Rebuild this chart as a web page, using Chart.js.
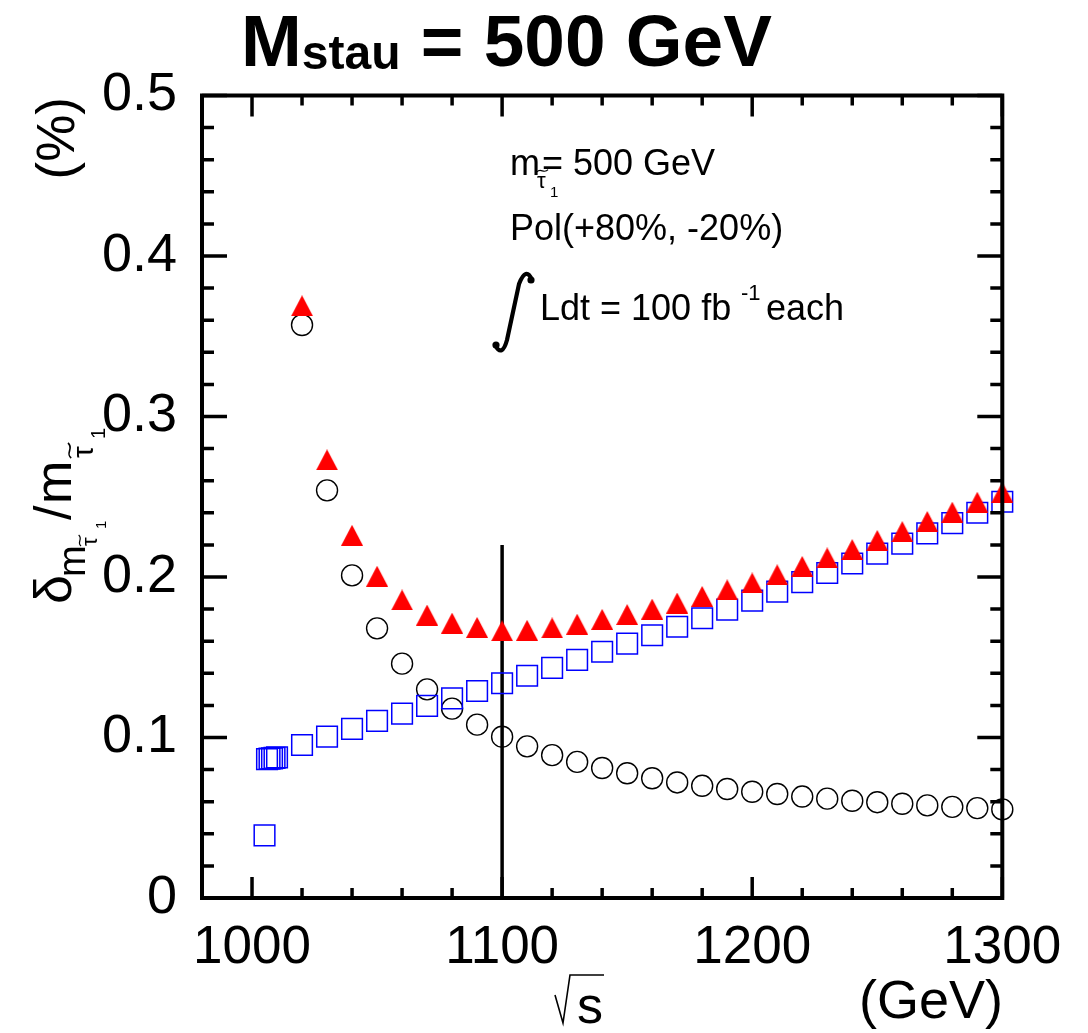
<!DOCTYPE html>
<html>
<head>
<meta charset="utf-8">
<title>Mstau = 500 GeV</title>
<script src="https://cdn.jsdelivr.net/npm/chart.js@4.4.1/dist/chart.umd.min.js"></script>
<style>
  html, body { margin: 0; padding: 0; background: #fff; }
  #wrap { width: 1088px; height: 1033px; }
</style>
</head>
<body>
<div id="wrap"><canvas id="staumass" width="1088" height="1033"></canvas></div>
<script>
// sqrt(s) scan points in GeV
const sqrtS = [1020, 1030, 1040, 1050, 1060, 1070, 1080, 1090, 1100, 1110,
               1120, 1130, 1140, 1150, 1160, 1170, 1180, 1190, 1200, 1210,
               1220, 1230, 1240, 1250, 1260, 1270, 1280, 1290, 1300];
const sqrtSFine = [1005, 1006, 1007, 1008, 1009, 1010,
                   1020, 1030, 1040, 1050, 1060, 1070, 1080, 1090, 1100, 1110,
                   1120, 1130, 1140, 1150, 1160, 1170, 1180, 1190, 1200, 1210,
                   1220, 1230, 1240, 1250, 1260, 1270, 1280, 1290, 1300];

// relative mass error in %
const errCircle = [0.357, 0.254, 0.201, 0.168, 0.146, 0.130, 0.118, 0.108, 0.1005, 0.0945,
                   0.089, 0.0848, 0.081, 0.0777, 0.0746, 0.072, 0.0699, 0.0679, 0.0662, 0.0648,
                   0.0632, 0.0619, 0.0606, 0.0597, 0.0587, 0.0577, 0.0568, 0.056, 0.0552];
const errTriangle = [0.369, 0.273, 0.226, 0.2005, 0.1857, 0.1763, 0.1713, 0.1686, 0.1665, 0.1668,
                     0.1683, 0.1706, 0.1736, 0.1766, 0.180, 0.1838, 0.1879, 0.192, 0.1963, 0.2014,
                     0.2066, 0.2119, 0.2171, 0.2228, 0.2283, 0.2346, 0.2404, 0.2466, 0.2528];
const errSquare = [0.039, 0.0865, 0.0868, 0.087, 0.0873, 0.0876,
                   0.0953, 0.1005, 0.1054, 0.1104, 0.1149, 0.1197, 0.1244, 0.129, 0.1338, 0.1385,
                   0.1434, 0.1484, 0.1534, 0.1585, 0.1637, 0.169, 0.1743, 0.1797, 0.1853, 0.1909,
                   0.1968, 0.2025, 0.2084, 0.2146, 0.2208, 0.2272, 0.2336, 0.24, 0.2469];

const xTicks = [1000, 1100, 1200, 1300];
const yTicks = [0, 0.1, 0.2, 0.3, 0.4, 0.5];
const cutX = [1100, 1100];
const cutY = [0, 0.22];

const FONT = '"Liberation Sans", Arial, Helvetica, sans-serif';

const pts = (xs, ys) => xs.map((x, i) => ({ x: x, y: ys[i] }));

// filled up-triangle, centred on its bounding box
const tri = document.createElement('canvas');
tri.width = 22; tri.height = 21;
(function () {
  const c = tri.getContext('2d');
  c.fillStyle = '#ff0000';
  c.beginPath();
  c.moveTo(0, 21); c.lineTo(22, 21); c.lineTo(11, 0);
  c.closePath();
  c.fill();
})();

// tau with a wavy tilde on top
function tauTilde(ctx, x, y, size) {
  ctx.font = size + 'px ' + FONT;
  ctx.fillText('τ', x, y);
  const w = Math.max(ctx.measureText('τ').width, size * 0.5);
  const cy = y - size * 0.78;
  const a = size * 0.09;
  ctx.save();
  ctx.lineWidth = Math.max(1.1, size * 0.055);
  ctx.beginPath();
  ctx.moveTo(x, cy + a * 0.6);
  ctx.bezierCurveTo(x + w * 0.3, cy - a * 1.8, x + w * 0.65, cy + a * 1.8, x + w, cy - a * 0.6);
  ctx.stroke();
  ctx.restore();
  return w;
}

// integral sign drawn as a stroked curve with ball ends
function integral(ctx) {
  ctx.save();
  ctx.lineWidth = 4.2;
  ctx.lineCap = 'round';
  ctx.beginPath();
  ctx.moveTo(532, 280);
  ctx.quadraticCurveTo(526, 266, 519, 284);
  ctx.lineTo(507, 340);
  ctx.quadraticCurveTo(502, 358, 495, 345);
  ctx.stroke();
  ctx.beginPath();
  ctx.arc(531, 280, 3.6, 0, Math.PI * 2);
  ctx.arc(496, 345, 3.6, 0, Math.PI * 2);
  ctx.fill();
  ctx.restore();
}

const decor = {
  id: 'decor',
  afterDatasetsDraw(chart) {
    const { ctx, chartArea: a, scales: { x, y } } = chart;
    ctx.save();
    ctx.strokeStyle = '#000';
    ctx.lineCap = 'butt';

    // inward ticks on all four sides
    ctx.lineWidth = 3.5;
    ctx.beginPath();
    for (let v = 980; v <= 1300; v += 20) {
      const px = x.getPixelForValue(v);
      const len = v % 100 === 0 ? 21 : 10;
      ctx.moveTo(px, a.bottom); ctx.lineTo(px, a.bottom - len);
      ctx.moveTo(px, a.top); ctx.lineTo(px, a.top + len);
    }
    for (let i = 0; i <= 25; i++) {
      const py = y.getPixelForValue(i * 0.02);
      const len = i % 5 === 0 ? 25 : 12;
      ctx.moveTo(a.left, py); ctx.lineTo(a.left + len, py);
      ctx.moveTo(a.right, py); ctx.lineTo(a.right - len, py);
    }
    ctx.stroke();
    ctx.lineWidth = 4;
    ctx.strokeRect(a.left, a.top, a.right - a.left, a.bottom - a.top);
    ctx.restore();
  },
  afterDraw(chart) {
    const ctx = chart.ctx;
    ctx.save();
    ctx.fillStyle = '#000';
    ctx.strokeStyle = '#000';
    ctx.textBaseline = 'alphabetic';
    ctx.textAlign = 'left';

    // title
    let tx = 241;
    ctx.font = 'bold 73px ' + FONT;
    ctx.fillText('M', tx, 66);
    tx += ctx.measureText('M').width;
    ctx.font = 'bold 48px ' + FONT;
    ctx.fillText('stau', tx, 69);
    tx += ctx.measureText('stau').width;
    ctx.font = 'bold 73px ' + FONT;
    ctx.fillText(' = 500 GeV', tx, 66);

    // run info
    ctx.font = '36px ' + FONT;
    ctx.fillText('m', 510, 175);
    tauTilde(ctx, 537, 188, 22);
    ctx.font = '15px ' + FONT;
    ctx.fillText('1', 550, 197);
    ctx.font = '36px ' + FONT;
    ctx.fillText('= 500 GeV', 542, 175);
    ctx.fillText('Pol(+80%, -20%)', 510, 240);
    integral(ctx);
    ctx.font = '36px ' + FONT;
    ctx.fillText('Ldt = 100 fb', 540, 320);
    ctx.font = '22px ' + FONT;
    ctx.fillText('-1', 741, 300);
    ctx.font = '36px ' + FONT;
    ctx.fillText('each', 766, 320);

    // x axis title
    ctx.lineWidth = 1.6;
    ctx.beginPath();
    ctx.moveTo(555, 995); ctx.lineTo(563, 1023); ctx.lineTo(570, 975); ctx.lineTo(604, 975);
    ctx.stroke();
    ctx.font = '52px ' + FONT;
    ctx.fillText('s', 577, 1023);
    ctx.font = '54px ' + FONT;
    ctx.textAlign = 'right';
    ctx.fillText('(GeV)', 1003, 1018);
    ctx.textAlign = 'left';

    // y axis title, rotated to read upwards
    ctx.save();
    ctx.translate(71, 604);
    ctx.rotate(-Math.PI / 2);
    ctx.font = '52px ' + FONT;
    ctx.fillText('δ', 0, 0);
    ctx.font = '38px ' + FONT;
    ctx.fillText('m', 27, 14);
    tauTilde(ctx, 58, 26, 22);
    ctx.font = '15px ' + FONT;
    ctx.fillText('1', 75, 35);
    ctx.font = '52px ' + FONT;
    ctx.fillText('/', 84, 0);
    ctx.fillText('m', 100, 0);
    tauTilde(ctx, 146, 22, 30);
    ctx.font = '20px ' + FONT;
    ctx.fillText('1', 165, 34);
    ctx.font = '53px ' + FONT;
    ctx.textAlign = 'right';
    ctx.fillText('(%)', 507, 3);
    ctx.restore();

    ctx.restore();
  }
};

new Chart(document.getElementById('staumass'), {
  type: 'scatter',
  data: {
    datasets: [
      {
        label: 'triangles',
        data: pts(sqrtS, errTriangle),
        pointStyle: tri,
        pointRadius: 11,
        clip: false,
        order: 0
      },
      {
        label: 'squares',
        data: pts(sqrtSFine, errSquare),
        pointStyle: 'rect',
        pointRadius: 14.6,
        borderColor: '#0000ff',
        backgroundColor: 'rgba(0,0,0,0)',
        borderWidth: 1.5,
        clip: false,
        order: 1
      },
      {
        label: 'circles',
        data: pts(sqrtS, errCircle),
        pointStyle: 'circle',
        pointRadius: 10.5,
        borderColor: '#000000',
        backgroundColor: 'rgba(0,0,0,0)',
        borderWidth: 1.4,
        clip: false,
        order: 2
      },
      {
        label: 'cut',
        data: pts(cutX, cutY),
        showLine: true,
        pointRadius: 0,
        borderColor: '#000000',
        borderWidth: 3.5,
        order: 3
      }
    ]
  },
  options: {
    responsive: false,
    animation: false,
    events: [],
    layout: { padding: { top: 95.5, right: 85.7, bottom: 0, left: 0 } },
    scales: {
      x: {
        type: 'linear',
        min: 980,
        max: 1300,
        grid: { display: false },
        border: { display: false },
        afterBuildTicks: s => { s.ticks = xTicks.map(v => ({ value: v })); },
        afterFit: s => { s.height = 135; },
        ticks: {
          color: '#000',
          padding: 11,
          autoSkip: false,
          maxRotation: 0,
          font: { family: FONT, size: 53 },
          callback: v => String(v)
        }
      },
      y: {
        type: 'linear',
        min: 0,
        max: 0.5,
        grid: { display: false },
        border: { display: false },
        afterBuildTicks: s => { s.ticks = yTicks.map(v => ({ value: v })); },
        afterFit: s => { s.width = 202; },
        ticks: {
          color: '#000',
          padding: 17,
          font: { family: FONT, size: 54 },
          callback: v => v === 0 ? '0' : v.toFixed(1)
        }
      }
    },
    plugins: {
      legend: { display: false },
      tooltip: { enabled: false },
      title: { display: false }
    }
  },
  plugins: [decor]
});
</script>
</body>
</html>
